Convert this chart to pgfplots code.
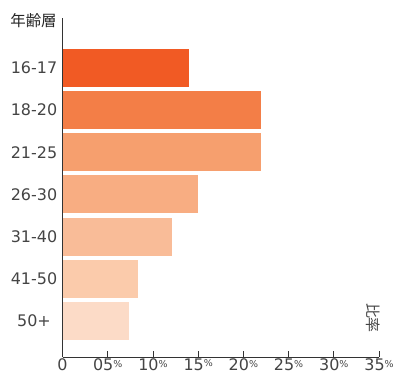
\documentclass[border=0pt]{standalone}
\usepackage{fontspec}
\setmainfont{DejaVu Sans}
\newfontfamily\cjk{Noto Sans CJK JP}
\usepackage{pgfplots}
\pgfplotsset{compat=1.18}
\newcommand\pct{{\fontsize{9.5}{9.5}\selectfont\raisebox{3.5pt}{\%}}}
\definecolor{c1}{HTML}{F15A24}
\definecolor{c2}{HTML}{F37E47}
\definecolor{c3}{HTML}{F69F6E}
\definecolor{c4}{HTML}{F8AD82}
\definecolor{c5}{HTML}{F9BC98}
\definecolor{c6}{HTML}{FBCBAB}
\definecolor{c7}{HTML}{FCDBC7}
\definecolor{axc}{HTML}{333333}
\definecolor{txc}{HTML}{444444}
\begin{document}
\begin{tikzpicture}
\useasboundingbox (-62.5bp,-19bp) rectangle (336.5bp,357bp);
\begin{axis}[
  at={(0,0)}, anchor=south west,
  scale only axis, width=316.5bp, height=339bp,
  xmin=0, xmax=35, ymin=-0.85, ymax=7.18,
  xbar, bar width=0.9, bar shift=0pt,
  axis x line*=bottom, axis y line*=left,
  axis line style={axc, line width=1pt, -},
  xtick={0,5,10,15,20,25,30,35},
  xticklabels={0,05\pct,10\pct,15\pct,20\pct,25\pct,30\pct,35\pct},
  ytick={0,1,2,3,4,5,6},
  yticklabels={50+,41-50,31-40,26-30,21-25,18-20,16-17},
  xtick align=inside,
  major tick length=6bp,
  xtick style={axc, line width=0.8pt},
  ytick style={draw=none},
  tick label style={font=\fontsize{16}{18}\selectfont, text=txc},
  xticklabel style={inner sep=1.5bp},
  yticklabel style={anchor=center, xshift=-22.5bp},
  /pgf/number format/assume math mode=true,
]
\addplot[draw=none, fill=c7] coordinates {(7.4,0)};
\addplot[draw=none, fill=c6] coordinates {(8.4,1)};
\addplot[draw=none, fill=c5] coordinates {(12.1,2)};
\addplot[draw=none, fill=c4] coordinates {(15.0,3)};
\addplot[draw=none, fill=c3] coordinates {(22.0,4)};
\addplot[draw=none, fill=c2] coordinates {(22.0,5)};
\addplot[draw=none, fill=c1] coordinates {(14.0,6)};
\end{axis}
\node[font=\cjk\fontsize{15.5}{17}\selectfont, text=black!85] at (-29bp,336bp) {年齢層};
\node[font=\cjk\fontsize{15}{17}\selectfont, text=txc, rotate=-90] at (310.5bp,39bp) {比率};
\end{tikzpicture}
\end{document}
